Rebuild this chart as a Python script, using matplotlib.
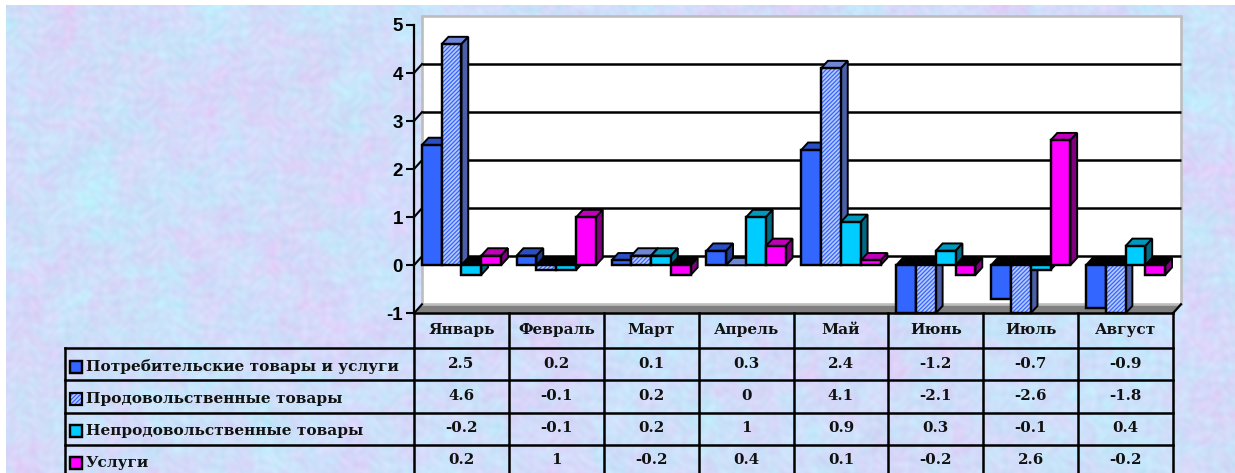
import numpy as np
import matplotlib
matplotlib.use('Agg')
import matplotlib.pyplot as plt
from matplotlib.patches import Polygon, Rectangle

months = ['Январь', 'Февраль', 'Март', 'Апрель', 'Май', 'Июнь', 'Июль', 'Август']
series_names = ['Потребительские товары и услуги', 'Продовольственные товары',
                'Непродовольственные товары', 'Услуги']
consumer = [2.5, 0.2, 0.1, 0.3, 2.4, -1.2, -0.7, -0.9]
food = [4.6, -0.1, 0.2, 0, 4.1, -2.1, -2.6, -1.8]
nonfood = [-0.2, -0.1, 0.2, 1, 0.9, 0.3, -0.1, 0.4]
services = [0.2, 1, -0.2, 0.4, 0.1, -0.2, 2.6, -0.2]
all_series = [consumer, food, nonfood, services]
y_ticks = [-1, 0, 1, 2, 3, 4, 5]

front_colors = ['#3366ff', '#b9c9fb', '#00ccff', '#ff00ff']
top_colors = ['#2a4fc4', '#6f86d6', '#0099bb', '#c000b8']
side_colors = ['#1f3a8f', '#4a5fa8', '#006a85', '#800080']
hatches = [None, '////////', None, None]

plt.rcParams['hatch.linewidth'] = 0.9

W, H = 1235, 473
fig = plt.figure(figsize=(W / 100, H / 100), dpi=100, facecolor='white')


def wobble(xx, yy, waves):
    # warped waves so the blotches do not line up into a pattern
    out = np.zeros_like(xx, dtype=float)
    for fx, fy, ph in waves:
        out += np.sin(xx * fx + 2.4 * np.sin(yy * fy * 0.7 + ph)) * np.sin(yy * fy + 2.4 * np.sin(xx * fx * 0.6 - ph))
    return out / len(waves)


def make_texture(w, h):
    xx, yy = np.meshgrid(np.arange(w, dtype=float), np.arange(h, dtype=float))
    a = wobble(xx, yy, [(.013, .019, .4), (.037, .029, 1.9), (.071, .083, 3.1), (.149, .127, 5.2)])
    b = wobble(xx, yy, [(.017, .011, 2.7), (.043, .031, .8), (.067, .097, 4.3), (.173, .139, 1.1)])
    c = wobble(xx, yy, [(.211, .263, .3), (.307, .241, 2.2), (.127, .191, 4.4)])
    img = np.zeros((h, w, 3))
    img[..., 0] = 208 + 20 * a - 8 * b + 8 * c
    img[..., 1] = 222 - 16 * a + 10 * b + 8 * c
    img[..., 2] = 250 + 4 * b + 4 * c
    return np.clip(img, 0, 255) / 255


bg = fig.add_axes([0, 0, 1, 1], zorder=0)
bg.axis('off')
bg.imshow(make_texture(W - 6, H - 6), extent=(6, W, H, 6), aspect='auto', interpolation='bilinear')
bg.set_xlim(0, W)
bg.set_ylim(H, 0)

# chart front plane
ax_left, ax_right, ax_top, ax_bottom = 414, 1173, 25, 313.3
ax = fig.add_axes([ax_left / W, (H - ax_bottom) / H, (ax_right - ax_left) / W, (ax_bottom - ax_top) / H],
                  zorder=1)
ax.patch.set_alpha(0)
ax.set_xlim(0, len(months))
ax.set_ylim(-1, 5)
for s in ['top', 'right', 'bottom']:
    ax.spines[s].set_visible(False)
ax.spines['left'].set_linewidth(1.6)
ax.set_xticks([])
ax.set_yticks(y_ticks)
ax.set_yticklabels([str(t) for t in y_ticks], family='Liberation Sans', fontweight='bold', fontsize=13.5)
ax.tick_params(axis='y', length=5.8, width=1.5, pad=2.2)

px_x = len(months) / (ax_right - ax_left)
px_y = 6 / (ax_bottom - ax_top)
wall_dx, wall_dy = 8 * px_x, 9 * px_y
bar_dx, bar_dy = 6.8 * px_x, 7.4 * px_y
n = len(months)


def poly(pts, **kw):
    kw.setdefault('clip_on', False)
    ax.add_patch(Polygon(pts, closed=True, **kw))


# back wall, floor and grid
poly([(0, -1), (n, -1), (n + wall_dx, -1 + wall_dy), (wall_dx, -1 + wall_dy)],
     fc='#808080', ec='none', zorder=1)
poly([(wall_dx, -1 + wall_dy), (n + wall_dx, -1 + wall_dy), (n + wall_dx, 5 + wall_dy), (wall_dx, 5 + wall_dy)],
     fc='white', ec='#bdbdbd', lw=1.9, zorder=1)
ax.plot([n, n + wall_dx], [-1, -1 + wall_dy], color='black', lw=1.6, clip_on=False, zorder=2)
for t in y_ticks[1:-1]:
    ax.plot([wall_dx, n + wall_dx], [t + wall_dy, t + wall_dy], color='black', lw=1.8, clip_on=False,
            solid_capstyle='butt', zorder=2)
for t in y_ticks[:-1]:
    ax.plot([0, wall_dx], [t, t + wall_dy], color='black', lw=1.5, clip_on=False, zorder=2)

# 3d bars, painted left to right
bar_w = 0.209
edge = 1.75
z = 3
for m in range(n):
    for k, values in enumerate(all_series):
        v = max(values[m], -1)
        x0 = m + 0.5 + (k - 2) * bar_w
        x1 = x0 + bar_w
        top = max(v, 0)
        bottom = min(v, 0)
        top_fc = 'black' if v < 0 else top_colors[k]
        poly([(x0, top), (x1, top), (x1 + bar_dx, top + bar_dy), (x0 + bar_dx, top + bar_dy)],
             fc=top_fc, ec='black', lw=edge * 0.8, zorder=z)
        if v != 0:
            poly([(x1, top), (x1 + bar_dx, top + bar_dy), (x1 + bar_dx, bottom + bar_dy), (x1, bottom)],
                 fc=side_colors[k], ec='black', lw=edge * 0.8, zorder=z)
            if hatches[k]:
                ax.bar(x0, v, width=bar_w, align='edge', color=front_colors[k], edgecolor=front_colors[0],
                       linewidth=0, hatch=hatches[k], clip_on=False, zorder=z + 0.4)
                ax.bar(x0, v, width=bar_w, align='edge', color='none', edgecolor='black',
                       linewidth=edge, clip_on=False, zorder=z + 0.5)
            else:
                ax.bar(x0, v, width=bar_w, align='edge', color=front_colors[k], edgecolor='black',
                       linewidth=edge, clip_on=False, zorder=z + 0.5)
        z += 1

# data table under the chart
tb = fig.add_axes([0, 0, 1, 1], zorder=2)
tb.set_xlim(0, W)
tb.set_ylim(H, 0)
tb.axis('off')
tb.patch.set_alpha(0)

col_x = np.linspace(ax_left, ax_right, n + 1)
row_y = [313.3, 348, 380, 412.5, 444.5, 476.5]
label_left = 65
serif = 'DejaVu Serif'
lw = 1.8
for x in col_x:
    tb.plot([x, x], [row_y[0], row_y[-1]], color='black', lw=lw)
for y in row_y[1:]:
    tb.plot([label_left, ax_right], [y, y], color='black', lw=lw)
tb.plot([label_left, label_left], [row_y[1], row_y[-1]], color='black', lw=lw)
tb.plot([ax_left, ax_right], [row_y[0], row_y[0]], color='black', lw=lw)
tb.set_xlim(0, W)
tb.set_ylim(H, 0)

for i, name in enumerate(months):
    tb.text((col_x[i] + col_x[i + 1]) / 2, (row_y[0] + row_y[1]) / 2 - 0.5, name, family=serif,
            fontweight='bold', fontsize=11.1, ha='center', va='center', color='#111111')

for r, (name, values) in enumerate(zip(series_names, all_series)):
    mid = (row_y[r + 1] + row_y[r + 2]) / 2
    yc = mid + 2.5
    tb.add_patch(Rectangle((70, yc - 6), 12, 12, fc=front_colors[r],
                           ec=front_colors[0] if hatches[r] else 'black', lw=0 if hatches[r] else 1.6,
                           hatch=hatches[r]))
    tb.add_patch(Rectangle((70, yc - 6), 12, 12, fc='none', ec='black', lw=1.6))
    tb.text(86, yc, name, family=serif, fontweight='bold', fontsize=11.1, ha='left', va='center', color='#111111')
    for i, v in enumerate(values):
        tb.text((col_x[i] + col_x[i + 1]) / 2, mid - 0.5, f'{v:g}', family=serif, fontweight='bold',
                fontsize=10.8, ha='center', va='center', color='#111111')

fig.savefig('out.png', dpi=100, facecolor='white')
